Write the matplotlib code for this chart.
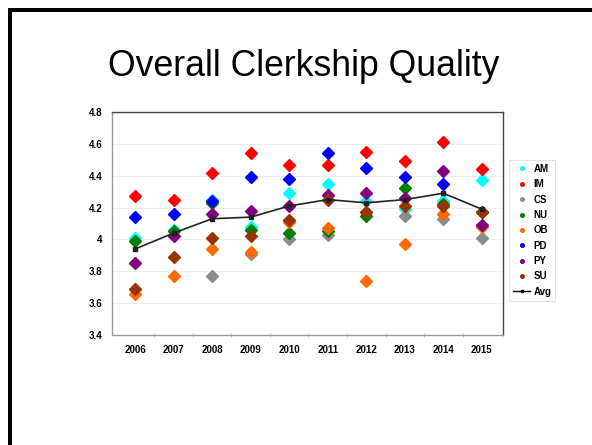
import numpy as np
import matplotlib
matplotlib.use("Agg")
import matplotlib.pyplot as plt
import matplotlib.transforms as mtransforms
from matplotlib.patches import Rectangle
from matplotlib.lines import Line2D

years = ["2006", "2007", "2008", "2009", "2010", "2011", "2012", "2013", "2014", "2015"]
nan = np.nan

AM = [4.01, 4.06, 4.25, 4.08, 4.29, 4.35, 4.24, 4.19, 4.24, 4.37]
IM = [4.27, 4.25, 4.42, 4.54, 4.47, 4.47, 4.55, 4.49, 4.61, 4.44]
CS = [nan, nan, 3.77, 3.91, 4.00, 4.03, 4.17, 4.15, 4.13, 4.01]
NU = [3.99, 4.05, 4.23, 4.06, 4.04, 4.05, 4.15, 4.32, 4.22, 4.17]
OB = [3.66, 3.77, 3.94, 3.92, 4.11, 4.07, 3.74, 3.97, 4.16, 4.08]
PD = [4.14, 4.16, 4.24, 4.39, 4.38, 4.54, 4.45, 4.39, 4.35, nan]
PY = [3.85, 4.02, 4.16, 4.18, 4.21, 4.28, 4.29, 4.26, 4.43, 4.09]
SU = [3.69, 3.89, 4.01, 4.02, 4.12, 4.25, 4.17, 4.21, 4.21, 4.17]
AVG = [3.94, 4.04, 4.13, 4.14, 4.21, 4.25, 4.23, 4.25, 4.29, 4.19]

series = [
    ("AM", AM, "#00FFFF"),
    ("IM", IM, "#FF0000"),
    ("CS", CS, "#8C8C8C"),
    ("NU", NU, "#008000"),
    ("OB", OB, "#FF6A00"),
    ("PD", PD, "#0000FF"),
    ("PY", PY, "#800080"),
    ("SU", SU, "#993300"),
]

yticks = [3.4, 3.6, 3.8, 4.0, 4.2, 4.4, 4.6, 4.8]
ytick_labels = ["3.4", "3.6", "3.8", "4", "4.2", "4.4", "4.6", "4.8"]

plt.rcParams["font.family"] = ["Liberation Sans", "DejaVu Sans"]

W, H = 592, 445
fig = plt.figure(figsize=(W / 100, H / 100), dpi=100)
fig.patch.set_facecolor("white")

# slide frame (top and left edges)
fig.patches.append(Rectangle((7.5 / W, 0), 4.5 / W, 1 - 7.5 / H, transform=fig.transFigure,
                             facecolor="black", edgecolor="none"))
fig.patches.append(Rectangle((7.5 / W, 1 - 12 / H), 1, 4.5 / H, transform=fig.transFigure,
                             facecolor="black", edgecolor="none"))

fig.text(304 / W, 1 - 66 / H, "Overall Clerkship Quality", ha="center", va="center",
         fontsize=25.7, color="black")

ax = fig.add_axes([112 / W, 1 - 335 / H, (503 - 112) / W, (335 - 112) / H])
x = np.arange(len(years))

for name, vals, col in series:
    ax.plot(x, vals, linestyle="none", marker="D", markersize=6.5, color=col,
            markeredgecolor=col, zorder=3)

ax.plot(x, AVG, color="#222222", linewidth=1.2, marker="s", markersize=2.5, zorder=4)

ax.set_xlim(-0.6, 9.55)
ax.set_ylim(3.4, 4.8)
ax.set_yticks(yticks)
ax.set_yticklabels(ytick_labels, fontsize=7, fontweight="bold")
shift = mtransforms.ScaledTranslation(0, -2 / 100, fig.dpi_scale_trans)
for lbl in ax.get_yticklabels():
    lbl.set_transform(lbl.get_transform() + shift)
ax.set_xticks(x)
ax.set_xticklabels(years, fontsize=7, fontweight="bold")
ax.set_xticks(x[:-1] + 0.5, minor=True)
ax.tick_params(axis="x", which="major", length=0, pad=7)
ax.tick_params(axis="x", which="minor", length=3, direction="inout", color="#bbbbbb")
ax.tick_params(axis="y", length=0, pad=7)
ax.grid(axis="y", color="#eeeeee", linewidth=0.8)
ax.set_axisbelow(True)

ax.spines["left"].set_color("#999999")
ax.spines["bottom"].set_color("#999999")
ax.spines["top"].set_color("#444444")
ax.spines["right"].set_color("#444444")
for s in ax.spines.values():
    s.set_linewidth(1.0)

handles = [Line2D([0], [0], linestyle="none", marker="o", markersize=2.6, color=c,
                  label=n) for n, _, c in series]
handles.append(Line2D([0], [0], color="black", linewidth=1.0, marker="s", markersize=2,
                      label="Avg"))
leg = fig.legend(handles=handles, loc="upper left", bbox_to_anchor=(509 / W, 1 - 160 / H),
                 frameon=True, fancybox=False, prop={"weight": "bold", "size": 7},
                 handlelength=1.8, labelspacing=0.55, borderpad=0.4, handletextpad=0.3,
                 borderaxespad=0)
leg.get_frame().set_edgecolor("#dddddd")
leg.get_frame().set_linewidth(0.8)

fig.savefig("out.png", dpi=100, facecolor="white")
